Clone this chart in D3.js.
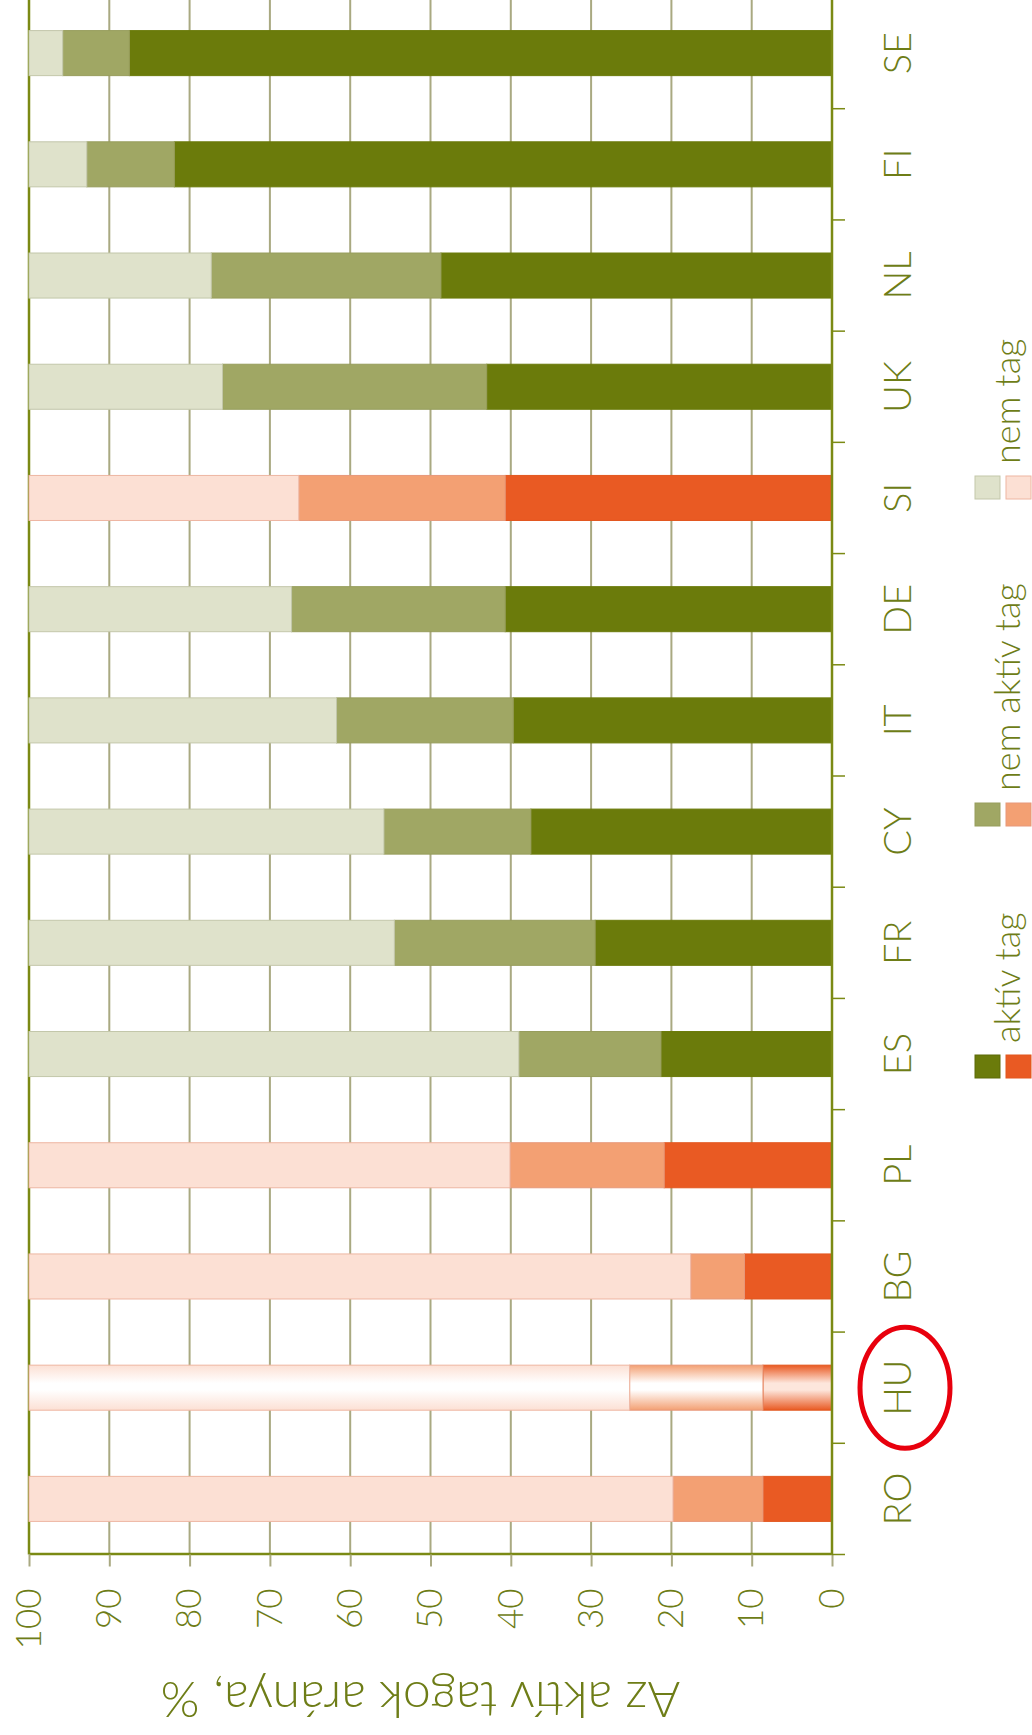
<!DOCTYPE html>
<html>
<head>
<meta charset="utf-8">
<script src="https://cdn.jsdelivr.net/npm/d3@7"></script>
<style>
  html, body { margin: 0; padding: 0; background: #ffffff; }
  svg { display: block; }
  text { font-family: Lato, "Open Sans", sans-serif; font-weight: 300; fill: #6e7d17; }
</style>
</head>
<body>
<svg id="chart" width="1032" height="1735"></svg>
<script>
// ---------- data ----------
const countries = ["RO", "HU", "BG", "PL", "ES", "FR", "CY", "IT", "DE", "SI", "UK", "NL", "FI", "SE"];
const aktivTag    = [8.6, 8.6, 10.9, 20.9, 21.3, 29.5, 37.5, 39.7, 40.7, 40.7, 43.0, 48.7, 81.9, 87.5];
const nemAktivTag = [11.2, 16.6, 6.7, 19.2, 17.7, 25.0, 18.3, 22.0, 26.6, 25.7, 32.9, 28.6, 10.9, 8.3];
const nemTag      = [80.2, 74.8, 82.4, 59.9, 61.0, 45.5, 44.2, 38.3, 32.7, 33.6, 24.1, 22.7, 7.2, 4.2];
const orangeCountries = ["RO", "HU", "BG", "PL", "SI"];
const highlightCountry = "HU";
const valueTicks = [0, 10, 20, 30, 40, 50, 60, 70, 80, 90, 100];
const seriesKeys = ["aktiv", "nemAktiv", "nem"];
const legendLabels = ["aktív tag", "nem aktív tag", "nem tag"];
const axisTitle = "Az aktív tagok aránya, %";

// ---------- styles ----------
const greenFill  = ["#6b7b0b", "#a0a764", "#dfe2cb"];
const greenLine  = ["#6b7b0b", "#979d5c", "#c3c7aa"];
const orangeFill = ["#e95a23", "#f3a073", "#fce0d4"];
const orangeLine = ["#e2571f", "#e7987a", "#eeb6a2"];
const axisColor = "#7b8a14";
const gridColor = "#a9a981";

// ---------- layout (chart drawn upright, then rotated -90deg) ----------
const W = 1557, H = 803;
const svg = d3.select("#chart");
const defs = svg.append("defs");
const g = svg.append("g").attr("transform", "translate(29,1554.5) rotate(-90)");

const x = d3.scaleBand().domain(countries).range([0, W]).paddingInner(0.595).paddingOuter(0.2975);
const y = d3.scaleLinear().domain([0, 100]).range([H, 0]);

const rows = countries.map((c, i) => ({ country: c, aktiv: aktivTag[i], nemAktiv: nemAktivTag[i], nem: nemTag[i] }));
const stacked = d3.stack().keys(seriesKeys)(rows);

// gradients for highlighted country
orangeFill.forEach((col, i) => {
  const lg = defs.append("linearGradient").attr("id", "hl" + i)
    .attr("x1", 0).attr("x2", 1).attr("y1", 0).attr("y2", 0);
  const center = i === 0 ? "#fde6dc" : "#ffffff";
  lg.append("stop").attr("offset", "0%").attr("stop-color", col);
  lg.append("stop").attr("offset", "45%").attr("stop-color", center);
  lg.append("stop").attr("offset", "60%").attr("stop-color", center);
  lg.append("stop").attr("offset", "100%").attr("stop-color", col);
});

// gridlines
g.append("g").selectAll("line").data(valueTicks.filter(v => v > 0)).join("line")
  .attr("x1", 0).attr("x2", W)
  .attr("y1", d => y(d)).attr("y2", d => y(d))
  .attr("stroke", d => d === 100 ? axisColor : gridColor)
  .attr("stroke-width", d => d === 100 ? 2.5 : 2);

// bars
const isOrange = c => orangeCountries.includes(c);
stacked.forEach((s, si) => {
  g.append("g").selectAll("rect").data(s).join("rect")
    .attr("x", d => x(d.data.country))
    .attr("width", x.bandwidth())
    .attr("y", d => y(d[1]))
    .attr("height", d => y(d[0]) - y(d[1]))
    .attr("fill", d => d.data.country === highlightCountry ? `url(#hl${si})`
                      : (isOrange(d.data.country) ? orangeFill[si] : greenFill[si]))
    .attr("stroke", d => isOrange(d.data.country) ? orangeLine[si] : greenLine[si])
    .attr("stroke-width", 1);
});

// value axis (left in upright chart)
const yAxis = g.append("g")
  .call(d3.axisLeft(y).tickValues(valueTicks).tickSize(12).tickSizeOuter(0).tickPadding(22));
yAxis.select(".domain").attr("stroke", axisColor).attr("stroke-width", 2.5);
yAxis.selectAll(".tick line").attr("stroke", gridColor).attr("stroke-width", 2);
yAxis.selectAll(".tick text").style("font-size", "35px").attr("fill", "#6e7d17");

// category axis (bottom in upright chart)
g.append("line").attr("x1", 0).attr("x2", W).attr("y1", H).attr("y2", H)
  .attr("stroke", axisColor).attr("stroke-width", 2.5);
const boundaries = d3.range(countries.length + 1).map(i => i * x.step());
g.append("g").selectAll("line").data(boundaries).join("line")
  .attr("x1", d => d).attr("x2", d => d).attr("y1", H).attr("y2", H + 13)
  .attr("stroke", axisColor).attr("stroke-width", 1.5);
g.append("g").selectAll("text").data(countries).join("text")
  .attr("x", d => x(d) + x.bandwidth() / 2)
  .attr("y", H + 79)
  .attr("text-anchor", "middle")
  .style("font-size", "38px")
  .text(d => d);

// highlight ellipse
g.append("ellipse")
  .attr("cx", x(highlightCountry) + x.bandwidth() / 2)
  .attr("cy", H + 73)
  .attr("rx", 60.5).attr("ry", 45)
  .attr("fill", "none").attr("stroke", "#e8000d").attr("stroke-width", 5);

// axis title
g.append("text")
  .attr("transform", `translate(-127.5,${H / 2 - 10}) rotate(-90)`)
  .attr("text-anchor", "middle")
  .style("font-size", "50px")
  .text(axisTitle);

// legend
const legendStarts = [476.5, 728.5, 1055.5];
legendLabels.forEach((lab, i) => {
  const lgI = g.append("g").attr("transform", `translate(${legendStarts[i]},0)`);
  lgI.append("rect").attr("x", 0).attr("y", 946).attr("width", 23).attr("height", 25)
    .attr("fill", greenFill[i]).attr("stroke", greenLine[i] === greenFill[i] ? "#5d6b08" : greenLine[i]).attr("stroke-width", 1);
  lgI.append("rect").attr("x", 0).attr("y", 977).attr("width", 23).attr("height", 25)
    .attr("fill", orangeFill[i]).attr("stroke", orangeLine[i]).attr("stroke-width", 1);
  lgI.append("text").attr("x", 35).attr("y", 991)
    .style("font-size", "36px").text(lab);
});
</script>
</body>
</html>
